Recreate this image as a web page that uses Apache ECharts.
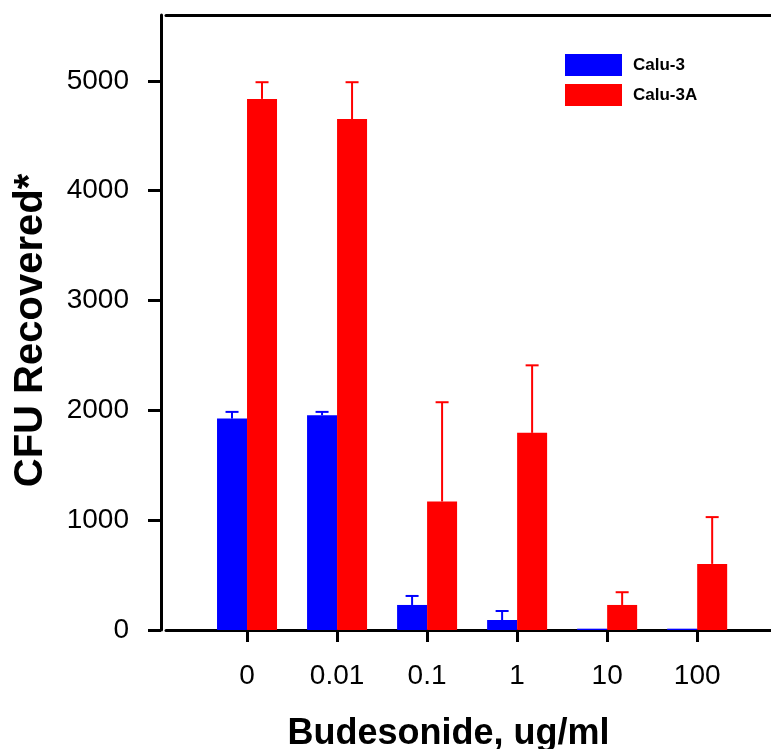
<!DOCTYPE html>
<html>
<head>
<meta charset="utf-8">
<script src="https://cdn.jsdelivr.net/npm/echarts@6/dist/echarts.min.js"></script>
<style>html,body{margin:0;padding:0;background:#fff}#c{width:771px;height:749px}</style>
</head>
<body>
<div id="c"></div>
<script>
// ---- data ----
const categories = ['0', '0.01', '0.1', '1', '10', '100'];
const calu3 = [1925, 1955, 228, 91, 12, 12];
const calu3Err = [1986, 1986, 310, 173, null, null];
const calu3A = [4836, 4653, 1170, 1795, 228, 602];
const calu3AErr = [4988, 4988, 2074, 2410, 344, 1028];
const yTicks = [0, 1000, 2000, 3000, 4000, 5000];

const idx = categories.map((c, i) => i);
const BLUE = '#0000FF', RED = '#FF0000';
const FONT = 'Liberation Sans, Arial, sans-serif';

function barData(vals) { return vals.map((v, i) => [i, v]); }
function errData(vals, errs) {
  const out = [];
  vals.forEach((v, i) => { if (errs[i] != null) out.push([i, v, errs[i]]); });
  return out;
}
function errRender(offset, color) {
  return function (params, api) {
    const base = api.coord([api.value(0), api.value(1)]);
    const top = api.coord([api.value(0), api.value(2)]);
    const x = base[0] + offset;
    const st = { stroke: color, lineWidth: 2 };
    return {
      type: 'group',
      children: [
        { type: 'line', shape: { x1: x, y1: base[1], x2: x, y2: top[1] }, style: st },
        { type: 'line', shape: { x1: x - 6.5, y1: top[1], x2: x + 6.5, y2: top[1] }, style: st }
      ]
    };
  };
}

const chart = echarts.init(document.getElementById('c'), null, { renderer: 'canvas' });
chart.setOption({
  animation: false,
  backgroundColor: '#fff',
  grid: { left: 166, right: 0, top: 15, bottom: 119, containLabel: false, outerBoundsMode: 'none' },
  legend: {
    orient: 'vertical', left: 565, top: 54, padding: 0,
    itemWidth: 57, itemHeight: 22, itemGap: 8,
    icon: 'rect',
    textStyle: { fontFamily: FONT, fontWeight: 'bold', fontSize: 17, color: '#000', padding: [0, 0, 0, 6] },
    data: ['Calu-3', 'Calu-3A']
  },
  xAxis: [{
    type: 'value', min: -0.9, max: 5.82,
    splitLine: { show: false },
    axisLine: { show: true, onZero: false, lineStyle: { color: '#000', width: 3 } },
    axisTick: { show: true, customValues: idx, length: 12, lineStyle: { color: '#000', width: 3 } },
    axisLabel: {
      customValues: idx, margin: 32,
      formatter: v => categories[Math.round(v)],
      fontFamily: FONT, fontSize: 28, color: '#000'
    },
    name: 'Budesonide, ug/ml', nameLocation: 'middle', nameGap: 86,
    nameTextStyle: { fontFamily: FONT, fontWeight: 'bold', fontSize: 36, color: '#000', padding: [0, 40, 0, 0] }
  }, {
    type: 'value', position: 'top', min: -0.9, max: 5.82,
    splitLine: { show: false },
    axisLine: { show: true, onZero: false, lineStyle: { color: '#000', width: 3 } },
    axisTick: { show: false }, axisLabel: { show: false }
  }],
  yAxis: {
    type: 'value', min: 0, max: 5600, offset: 5, position: 'left',
    splitLine: { show: false },
    axisLine: { show: true, onZero: false, lineStyle: { color: '#000', width: 3 } },
    axisTick: { show: true, customValues: yTicks, length: 13, lineStyle: { color: '#000', width: 3 } },
    axisLabel: { customValues: yTicks, margin: 32, formatter: v => String(v),
      fontFamily: FONT, fontSize: 28, color: '#000' },
    name: 'CFU Recovered*', nameLocation: 'middle', nameGap: 110,
    nameTextStyle: { fontFamily: FONT, fontWeight: 'bold', fontSize: 40, color: '#000', padding: [0, 16, 0, 0] }
  },
  series: [
    { name: 'Calu-3', type: 'bar', data: barData(calu3), barWidth: 30, barGap: '0%',
      itemStyle: { color: BLUE }, z: 2 },
    { name: 'Calu-3A', type: 'bar', data: barData(calu3A), barWidth: 30, barGap: '0%',
      itemStyle: { color: RED }, z: 2 },
    { name: 'Calu-3', type: 'custom', data: errData(calu3, calu3Err), renderItem: errRender(-15, BLUE),
      encode: { x: 0, y: [1, 2] }, z: 3 },
    { name: 'Calu-3A', type: 'custom', data: errData(calu3A, calu3AErr), renderItem: errRender(15, RED),
      encode: { x: 0, y: [1, 2] }, z: 3 }
  ]
});
</script>
</body>
</html>
